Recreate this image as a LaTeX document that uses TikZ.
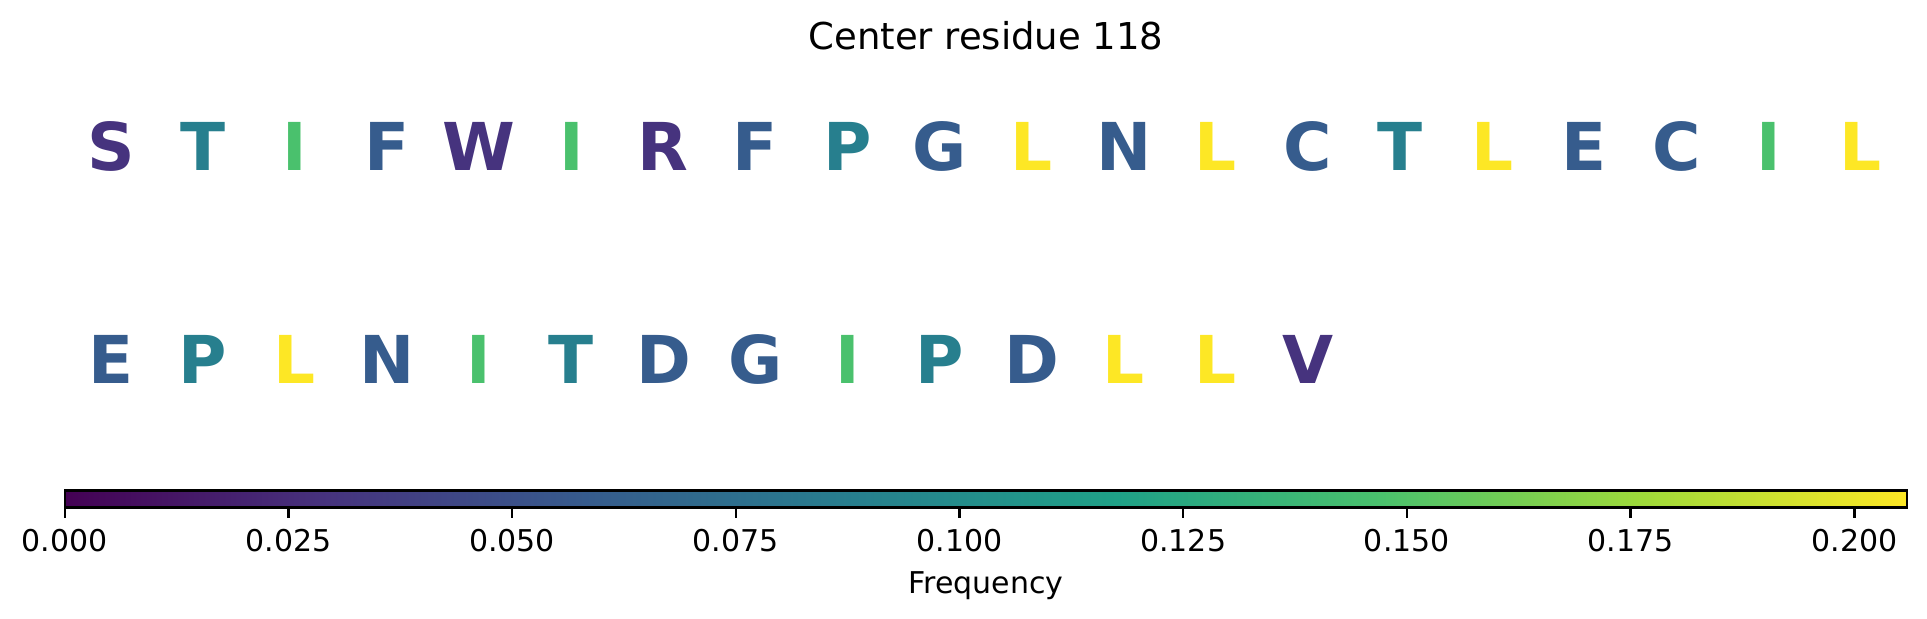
\documentclass[tikz,border=0pt]{standalone}
\usepackage{fontspec}
\setmainfont{DejaVu Sans}

% viridis, eight steps (count/7)
\definecolor{vir0}{HTML}{440154}
\definecolor{vir1}{HTML}{46337E}
\definecolor{vir2}{HTML}{365C8D}
\definecolor{vir3}{HTML}{277F8E}
\definecolor{vir4}{HTML}{1FA187}
\definecolor{vir5}{HTML}{4AC16D}
\definecolor{vir6}{HTML}{9FDA3A}
\definecolor{vir7}{HTML}{FDE725}

\pgfdeclarehorizontalshading{viridis}{100bp}{color(0bp)=(vir0); color(25bp)=(vir0);
  color(32.14bp)=(vir1); color(39.29bp)=(vir2); color(46.43bp)=(vir3);
  color(53.57bp)=(vir4); color(60.71bp)=(vir5); color(67.86bp)=(vir6);
  color(75bp)=(vir7); color(100bp)=(vir7)}

\begin{document}
\begin{tikzpicture}[x=0.5pt,y=-0.5pt,
  residue/.style={font=\fontsize{33}{33}\selectfont\bfseries, anchor=base, inner sep=0pt},
  ticklabel/.style={font=\fontsize{15}{15}\selectfont, anchor=base, inner sep=0pt}]
\useasboundingbox (0,0) rectangle (1927,619);

\node[font=\fontsize{18.5}{18.5}\selectfont, anchor=base, inner sep=0pt] (title) at (986,50) {Center residue 118};

% first row of residues
\foreach \res/\cnt [count=\i from 0] in {S/1,T/3,I/5,F/2,W/1,I/5,R/1,F/2,P/3,G/2,L/7,N/2,L/7,C/2,T/3,L/7,E/2,C/2,I/5,L/7}
  \node[residue, text=vir\cnt] (top-\i) at ({110.8+92.1*\i},170.5) {\res};

% second row of residues
\foreach \res/\cnt [count=\i from 0] in {E/2,P/3,L/7,N/2,I/5,T/3,D/2,G/2,I/5,P/3,D/2,L/7,L/7,V/1}
  \node[residue, text=vir\cnt] (bot-\i) at ({110.8+92.1*\i},384) {\res};

% colour bar
\shade[shading=viridis] (64.7,490.7) rectangle (1907,507.7);
\draw[line width=1.2pt] (64.7,490.7) rectangle (1907,507.7);
\foreach \v [count=\k from 0] in {0.000,0.025,0.050,0.075,0.100,0.125,0.150,0.175,0.200} {
  \draw[line width=1.2pt] ({64.7+223.7*\k},507.7) -- ++(0,10.5);
  \node[ticklabel] (tick-\k) at ({64.7+223.7*\k},551.7) {\v};
}
\node[ticklabel] (cblabel) at (986,594) {Frequency};
\end{tikzpicture}
\end{document}
